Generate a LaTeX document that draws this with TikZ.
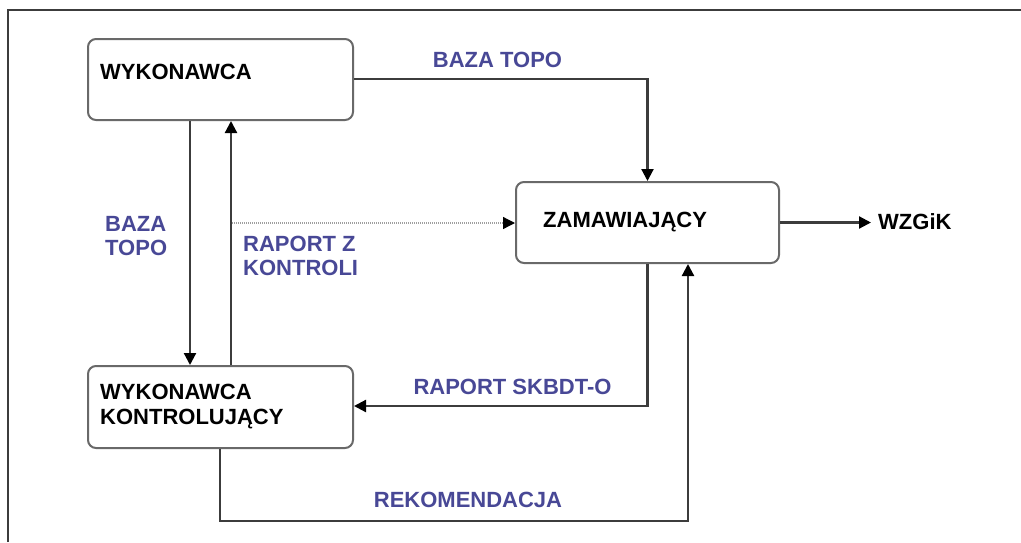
\documentclass[tikz,border=0pt]{standalone}
\usepackage{fontspec}
\setmainfont{Liberation Sans}
\usetikzlibrary{arrows.meta}
\definecolor{lblue}{RGB}{72,72,150}
\definecolor{boxgray}{RGB}{105,105,105}
\definecolor{linegray}{RGB}{60,60,60}
\tikzset{
  box/.style={draw=boxgray, line width=2pt, rounded corners=8pt, minimum width=265pt, minimum height=81pt, inner sep=0pt},
  btxt/.style={font=\fontsize{22}{25}\selectfont\bfseries, text=black, align=left, inner sep=0pt, anchor=west},
  ltxt/.style={font=\fontsize{22}{24}\selectfont\bfseries, text=lblue, align=left, inner sep=0pt},
  conn/.style={draw=linegray, line width=2.2pt},
  tip/.style={-{Triangle[length=12pt,width=12pt,color=black]}},
  arr/.style={conn, tip},
}
\begin{document}
\begin{tikzpicture}[x=1pt,y=1pt]
\useasboundingbox (0,0) rectangle (1021,-542);
% frame
\coordinate (fa) at (8,-542);
\coordinate (fb) at (8,-10);
\coordinate (fc) at (1021,-10);
\draw[draw=linegray, line width=1.5pt] (fa) -- (fb) -- (fc);

% boxes
\node[box] (W) at (220.5,-79.5) {};
\node[box, minimum height=82pt] (K) at (220.5,-407) {};
\node[box, minimum width=263pt] (Z) at (647.5,-222.5) {};

\node[btxt] (Wt) at (100,-72) {WYKONAWCA};
\node[btxt] (Kt) at (100,-407) {WYKONAWCA\\KONTROLUJĄCY};
\node[btxt] (Zt) at (543,-222) {ZAMAWIAJĄCY};
\node[btxt] (G) at (878,-222) {WZGiK};

% connectors
\draw[arr] (W.south -| 190,0) -- (K.north -| 190,0);
\draw[arr] (K.north -| 231,0) -- (W.south -| 231,0);
\draw[arr] (W.east |- 0,-79) -| (Z.north);
\coordinate (d0) at (232,-223);
\draw[draw=gray!75, line width=1.3pt, dash pattern=on 1pt off 1pt, tip] (d0) -- (Z.west |- d0);
\coordinate (g0) at (871,-222.5);
\draw[arr] (Z.east) -- (g0);
\draw[arr] (Z.south) |- (K.east |- 0,-406);
\coordinate (r1) at (220,-521);
\draw[arr] (K.south -| r1) -- (r1) -| (Z.south -| 688,0);

% labels
\node[ltxt] (l1) at (497.5,-59.5) {BAZA TOPO};
\node[ltxt, anchor=west] (l2) at (105,-236) {BAZA\\TOPO};
\node[ltxt, anchor=west] (l3) at (243,-255.5) {RAPORT Z\\KONTROLI};
\node[ltxt] (l4) at (512.5,-387) {RAPORT SKBDT-O};
\node[ltxt] (l5) at (468,-500) {REKOMENDACJA};
\end{tikzpicture}
\end{document}
